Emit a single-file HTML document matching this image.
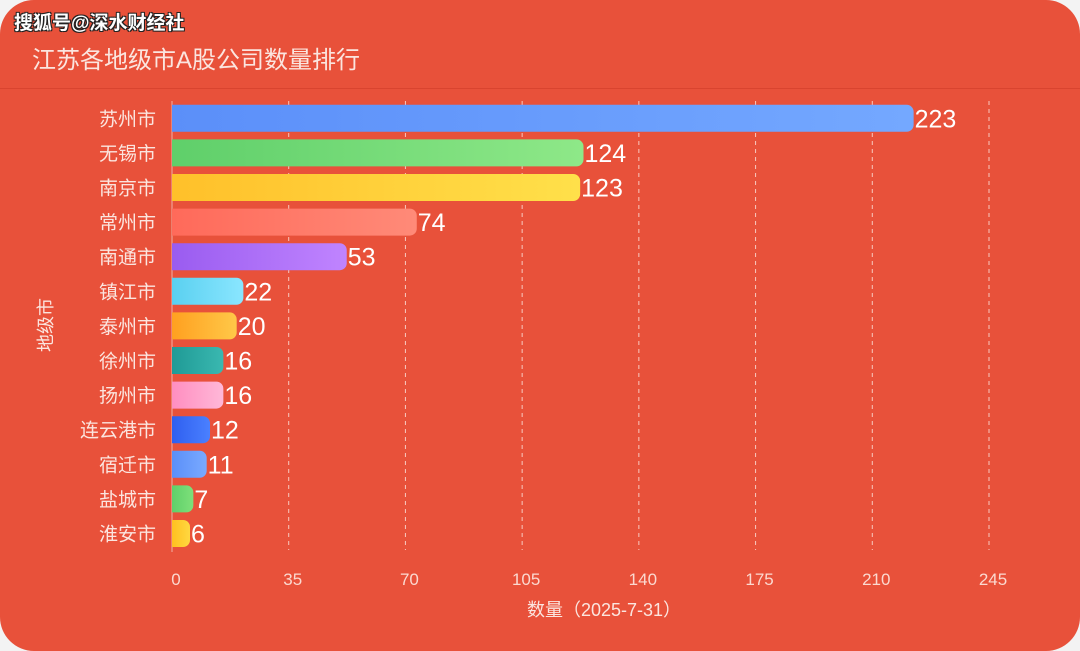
<!DOCTYPE html>
<html><head><meta charset="utf-8"><style>
html,body{margin:0;padding:0;background:#f3f3f3;}
#card{position:absolute;left:0;top:0;width:1080px;height:651px;background:#e8513a;border-radius:34px;overflow:hidden;font-family:"Liberation Sans","Noto Sans CJK SC",sans-serif;}
#wm{position:absolute;left:14px;top:8px;font-size:19px;font-weight:bold;color:#fff;text-shadow:1px 1px 0 #222,-1px 1px 0 #222,1px -1px 0 #222,-1px -1px 0 #222;}
#title{position:absolute;left:32px;top:40px;font-size:24px;color:#fbe5df;}
#sep{position:absolute;left:0;top:88px;width:1080px;height:1px;background:#d9442f;}
svg{position:absolute;left:0;top:0;}
</style></head><body>
<div id="card">
<div id="wm">搜狐号@深水财经社</div>
<div id="title">江苏各地级市A股公司数量排行</div>
<div id="sep"></div>
<svg id="chart" width="1080" height="651"></svg>
</div>
<script>
const categories=["苏州市","无锡市","南京市","常州市","南通市","镇江市","泰州市","徐州市","扬州市","连云港市","宿迁市","盐城市","淮安市"];
const values=[223,124,123,74,53,22,20,16,16,12,11,7,6];
const ticks=[0,35,70,105,140,175,210,245];
const colors=[["#5b8ff9","#74a8ff"],["#5fcf6a","#8ee888"],["#ffc02a","#ffe04a"],["#ff6a5a","#ff8a78"],["#9a5cf0","#c084ff"],["#5ad0f0","#8ae6ff"],["#ffa020","#ffc848"],["#1f9a96","#3ab8b0"],["#ff8ec0","#ffb8d8"],["#2f5ff0","#4a80ff"],["#5a8ff9","#7aaaff"],["#5fcf6a","#7ee07a"],["#ffc020","#ffd840"]];
const NS="http://www.w3.org/2000/svg";
const svg=document.getElementById('chart');
const x0=172,x1=989,top0=101,rowH=34.6,barH=27;
const xs=v=>x0+(v/245)*(x1-x0);
const ys=i=>top0+i*rowH;
function mk(t,a){const e=document.createElementNS(NS,t);for(const k in a)e.setAttribute(k,a[k]);svg.appendChild(e);return e;}
const defs=mk('defs',{});
colors.forEach((c,i)=>{const g=document.createElementNS(NS,'linearGradient');g.setAttribute('id','g'+i);g.innerHTML=`<stop offset="0" stop-color="${c[0]}"/><stop offset="1" stop-color="${c[1]}"/>`;defs.appendChild(g);});
ticks.forEach(t=>{
 if(t>0){const l=mk('line',{x1:xs(t),x2:xs(t),y1:101,y2:550,stroke:'#f7c9bf','stroke-dasharray':'4,4','stroke-width':1});
 
 }
 const tx=mk('text',{x:xs(t)+4,y:585,'text-anchor':'middle','font-size':17,fill:'#fbd9d0'});
 tx.textContent=t;
 
 
});
const ax=mk('line',{x1:x0,x2:x0,y1:101,y2:552,stroke:'#f0b0a5','stroke-width':1});


values.forEach((v,i)=>{
 const y=ys(i)+(rowH-barH)/2,w=xs(v)-x0-2;
 const r=mk('path',{d:`M${x0},${y}h${w-7}a7,7 0 0 1 7,7v${barH-14}a7,7 0 0 1 -7,7h${-(w-7)}z`,fill:`url(#g${i})`});
 
 
 const lb=mk('text',{x:x0+w+1,y:ys(i)+rowH/2+9,'font-size':25,fill:'#fff'});
 lb.textContent=v;
 
 
 const cl=mk('text',{x:156,y:ys(i)+rowH/2+7,'text-anchor':'end','font-size':19,fill:'#fbe5df'});
 cl.textContent=categories[i];
 
 
});
const xt=mk('text',{x:604,y:616,'text-anchor':'middle','font-size':18,fill:'#fbe5df'});
xt.textContent='数量（2025-7-31）';


const yt=mk('text',{x:0,y:0,'text-anchor':'middle','font-size':18,fill:'#fbe5df',transform:'translate(52,325) rotate(-90)'});
yt.textContent='地级市';


</script>
</body></html>
